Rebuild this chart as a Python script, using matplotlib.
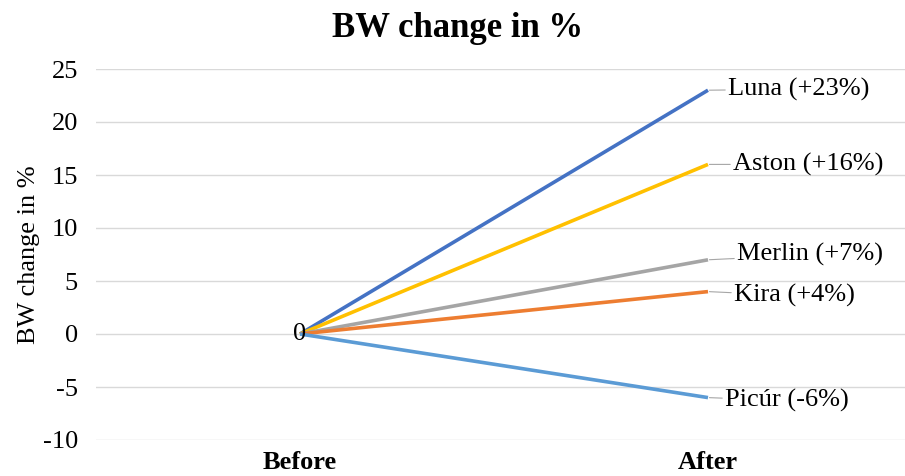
import matplotlib
matplotlib.use("Agg")
import matplotlib.pyplot as plt
from matplotlib.transforms import ScaledTranslation

categories = ["Before", "After"]
names = ["Luna", "Aston", "Merlin", "Kira", "Picúr"]
before = [0, 0, 0, 0, 0]
after = [23, 16, 7, 4, -6]
colors = ["#4472C4", "#FFC000", "#A5A5A5", "#ED7D31", "#5B9BD5"]
yticks = [-10, -5, 0, 5, 10, 15, 20, 25]
label_dx = [20, 25, 29, 26, 17]   # horizontal offset of each end label (pixels)
label_dy = [1, 0, 5, -4, -3]      # vertical offset of each end label (pixels)

plt.rcParams["font.family"] = ["Liberation Serif", "DejaVu Serif"]

fig = plt.figure(figsize=(9.05, 4.76), dpi=100)
ax = fig.add_axes([96 / 905, 36 / 476, 809 / 905, 371 / 476])

x = list(range(len(categories)))
for name, b, a, c, dx, dy in zip(names, before, after, colors, label_dx, label_dy):
    ax.plot(x, [b, a], color=c, lw=2.6, solid_capstyle="butt", zorder=3)
    sign = "+" if a > 0 else ""
    ax.annotate(f"{name} ({sign}{a}%)", xy=(x[1], a), xytext=(dx, dy),
                textcoords="offset pixels", fontsize=19, va="center", ha="left",
                annotation_clip=False,
                arrowprops=dict(arrowstyle="-", color="#A6A6A6", lw=0.8,
                                shrinkA=0, shrinkB=1))

ax.text(x[0], before[0], "0", fontsize=19, ha="right", va="center",
        transform=ax.transData + ScaledTranslation(6 / 100, 0, fig.dpi_scale_trans),
        zorder=4)

ax.set_xlim(-0.5, 1.5 - 7 / 408)
ax.set_ylim(-10, 25)
ax.set_yticks(yticks)
ax.set_yticklabels([str(v) for v in yticks])
ax.set_xticks(x)
ax.set_xticklabels(categories)
ax.tick_params(axis="both", length=0)
ax.tick_params(axis="y", pad=13, labelsize=19)
ax.tick_params(axis="x", pad=8, labelsize=19)
for lab in ax.get_xticklabels():
    lab.set_fontweight("bold")
ax.yaxis.grid(True, color="#D9D9D9", lw=1)
ax.set_axisbelow(True)
for s in ax.spines.values():
    s.set_visible(False)

ax.set_ylabel("BW change in %", fontsize=19, labelpad=2)
fig.suptitle("BW change in %", x=0.506, fontsize=25, fontweight="bold", y=0.975)

fig.savefig("out.png", dpi=100)
